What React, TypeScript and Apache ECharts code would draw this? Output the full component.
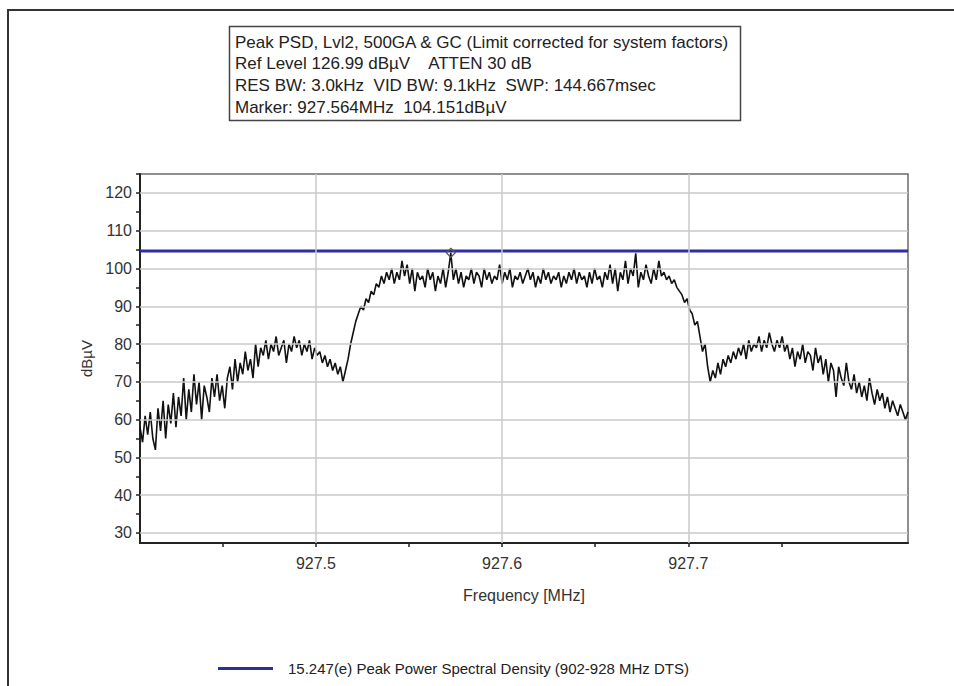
import React, { useEffect, useRef } from "react";
import * as echarts from "echarts";

// ---- Data ----
const START_MHZ = 927.4055;
const STOP_MHZ = 927.818;

// Peak PSD trace (dBµV), evenly spaced sweep points from START_MHZ to STOP_MHZ
const TRACE_DBUV = [
  58, 54, 61, 56, 62, 55, 52, 63, 57, 65,
  55, 64, 59, 67, 58, 66, 61, 71, 60, 68,
  62, 72, 64, 70, 60, 69, 66, 62, 71, 66,
  72, 65, 69, 63, 71, 74, 68, 76, 70, 75,
  72, 78, 73, 76, 71, 80, 74, 79, 77, 81,
  76, 80, 78, 82, 77, 79, 81, 75, 80, 78,
  82, 79, 81, 77, 80, 78, 81, 76, 79, 77,
  78, 75, 77, 74, 76, 73, 75, 72, 74, 70,
  73, 76, 80, 83, 86, 88, 90, 89, 92, 91,
  94, 93, 96, 95, 98, 96, 99, 97, 100, 96,
  99, 97, 102, 98, 101, 96, 100, 94, 99, 97,
  98, 95, 100, 97, 99, 94, 98, 96, 100, 95,
  99, 104.15, 97, 100, 96, 99, 95, 98, 97, 100,
  96, 99, 98, 95, 100, 97, 99, 96, 98, 97,
  101, 96, 99, 97, 100, 95, 98, 97, 99, 96,
  98, 100, 97, 99, 95, 98, 96, 100, 97, 99,
  96, 98, 97, 99, 95, 98, 96, 99, 97, 100,
  96, 99, 97, 98, 95, 99, 96, 100, 97, 98,
  95, 99, 97, 101, 96, 100, 94, 99, 97, 102,
  96, 100, 98, 104, 95, 99, 97, 101, 98, 96,
  100, 97, 102, 98, 99, 97, 98, 96, 97, 95,
  94, 93, 91, 92, 89, 88, 85, 86, 82, 78,
  80, 74, 70, 73, 71, 75, 72, 76, 74, 77,
  75, 78, 76, 79, 77, 80, 76, 81, 78, 80,
  79, 82, 78, 81, 79, 83, 80, 78, 81, 79,
  82, 78, 80, 76, 79, 74, 78, 76, 80, 75,
  78, 77, 73, 79, 75, 77, 72, 76, 70, 75,
  73, 66, 74, 71, 69, 75, 70, 68, 72, 67,
  70, 66, 69, 65, 71, 67, 64, 68, 65, 67,
  63, 66, 62, 65, 63, 61, 64, 62, 60, 62,
];
const MARKER_INDEX = 121;

const LIMIT_DBUV = 104.6;
const LIMIT_NAME = "15.247(e) Peak Power Spectral Density (902-928 MHz DTS)";

const Y_MIN = 27.35;
const Y_MAX = 125;
const Y_TICKS = [30, 35, 40, 45, 50, 55, 60, 65, 70, 75, 80, 85, 90, 95, 100, 105, 110, 115, 120, 125];
const Y_LABELS = [30, 40, 50, 60, 70, 80, 90, 100, 110, 120];
const X_TICKS = [927.45, 927.5, 927.55, 927.6, 927.65, 927.7, 927.75];
const X_LABELS = [927.5, 927.6, 927.7];

const INFO_LINES = [
  "Peak PSD, Lvl2, 500GA & GC (Limit corrected for system factors)",
  "Ref Level 126.99 dBµV    ATTEN 30 dB",
  "RES BW: 3.0kHz  VID BW: 9.1kHz  SWP: 144.667msec",
  "Marker: 927.564MHz  104.151dBµV",
];

const FONT = '"Liberation Sans", Arial, sans-serif';

export default function App() {
  const ref = useRef<HTMLDivElement>(null);

  useEffect(() => {
    if (!ref.current) return;
    const chart = echarts.init(ref.current, undefined, { renderer: "svg" });
    const n = TRACE_DBUV.length;
    const step = (STOP_MHZ - START_MHZ) / (n - 1);
    const trace = TRACE_DBUV.map((v, i) => [START_MHZ + i * step, v]);

    const option: any = {
      animation: false,
      backgroundColor: "#ffffff",
      textStyle: { fontFamily: FONT },
      grid: {
        left: 140,
        top: 174,
        right: 46,
        bottom: 143,
        show: true,
        borderColor: "#6a6a6a",
        borderWidth: 1.5,
        backgroundColor: "transparent",
      },
      xAxis: {
        type: "value",
        min: START_MHZ,
        max: STOP_MHZ,
        name: "Frequency [MHz]",
        nameLocation: "middle",
        nameGap: 44,
        nameTextStyle: { fontSize: 16, color: "#333", fontFamily: FONT },
        axisLine: { show: true, lineStyle: { color: "#222", width: 2 } },
        axisTick: { show: true, customValues: X_TICKS, length: 4, lineStyle: { color: "#222", width: 1.5 } },
        axisLabel: {
          customValues: X_LABELS,
          fontSize: 16,
          color: "#333",
          margin: 12,
          fontFamily: FONT,
          formatter: (v: number) => v.toFixed(1),
        },
        splitLine: { show: false },
      },
      yAxis: {
        type: "value",
        min: Y_MIN,
        max: Y_MAX,
        name: "dBµV",
        nameLocation: "middle",
        nameGap: 40,
        nameRotate: 90,
        nameTextStyle: { fontSize: 15, color: "#333", fontFamily: FONT },
        axisLine: { show: true, lineStyle: { color: "#222", width: 2 } },
        axisTick: { show: true, customValues: Y_TICKS, length: 4, lineStyle: { color: "#222", width: 1.5 } },
        axisLabel: { customValues: Y_LABELS, fontSize: 16, color: "#333", margin: 8, fontFamily: FONT },
        splitLine: { show: false },
      },
      legend: {
        data: [LIMIT_NAME],
        left: 213,
        top: 656,
        icon: "rect",
        itemWidth: 55,
        itemHeight: 3,
        textStyle: { fontSize: 15, color: "#222", fontFamily: FONT, padding: [0, 0, 0, 10] },
        selectedMode: false,
      },
      graphic: [
        {
          type: "rect",
          silent: true,
          shape: { x: 8, y: 10, width: 1000, height: 1000 },
          style: { fill: "none", stroke: "#333", lineWidth: 2 },
        },
        {
          type: "rect",
          silent: true,
          shape: { x: 229.5, y: 26.5, width: 511, height: 94 },
          style: { fill: "#fff", stroke: "#444", lineWidth: 1.5 },
        },
        ...INFO_LINES.map((t, i) => ({
          type: "text",
          silent: true,
          x: 235,
          y: 42 + i * 21.7,
          style: {
            text: t,
            fill: "#222",
            fontSize: 17,
            fontFamily: FONT,
            verticalAlign: "middle",
            align: "left",
          },
        })),
      ],
      series: [
        {
          type: "line",
          name: "grid",
          data: [],
          silent: true,
          z: 1,
          markLine: {
            silent: true,
            symbol: "none",
            label: { show: false },
            lineStyle: { color: "#c8c8c8", width: 1.5, type: "solid" },
            emphasis: { disabled: true },
            data: [
              ...Y_LABELS.map((v) => ({ yAxis: v })),
              ...X_LABELS.map((v) => ({ xAxis: v })),
            ],
          },
        },
        {
          type: "line",
          name: LIMIT_NAME,
          data: [
            [START_MHZ, LIMIT_DBUV],
            [STOP_MHZ, LIMIT_DBUV],
          ],
          showSymbol: false,
          symbol: "none",
          itemStyle: { color: "#2f2f9c" },
          lineStyle: { color: "#2f2f9c", width: 3 },
          z: 2,
          silent: true,
        },
        {
          type: "line",
          name: "Peak PSD",
          data: trace,
          showSymbol: false,
          symbol: "none",
          lineStyle: { color: "#111", width: 1.6 },
          itemStyle: { color: "#111" },
          z: 3,
          silent: true,
          markPoint: {
            symbol: "diamond",
            symbolSize: 9,
            label: { show: false },
            itemStyle: { color: "rgba(0,0,0,0)", borderColor: "#555", borderWidth: 1.2 },
            data: [{ coord: trace[MARKER_INDEX] }],
          },
        },
      ],
    };
    chart.setOption(option);
    return () => chart.dispose();
  }, []);

  return (
    <div
      ref={ref}
      style={{ position: "fixed", left: 0, top: 0, width: 954, height: 686, background: "#fff" }}
    />
  );
}
